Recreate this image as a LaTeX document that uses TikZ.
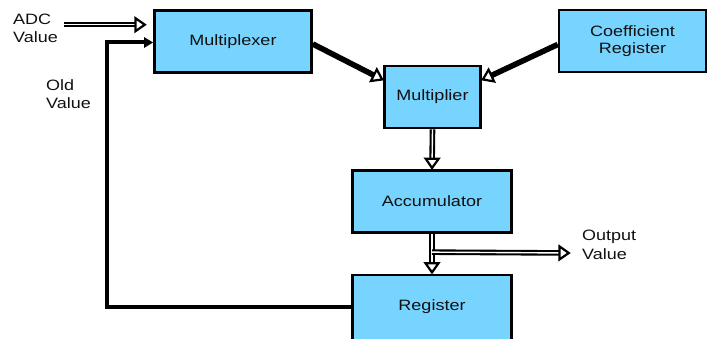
\documentclass[tikz,border=0pt]{standalone}
\usepackage{fontspec}
\setmainfont{Liberation Sans}[FakeStretch=1.2]
\usetikzlibrary{arrows.meta,calc}
\definecolor{boxblue}{RGB}{118,212,255}
\definecolor{ink}{RGB}{17,17,17}
\newcommand\dblarrow[3][dshaft]{%
  \draw[#1, shorten >=8pt] (#2) -- (#3);
  \draw[dhead] ($(#3)!1.2pt!(#2)$) -- ($(#3)!10.5pt!(#2)!6.5pt!90:(#3)$)
     -- ($(#3)!10.5pt!(#2)!6.5pt!-90:(#3)$) -- cycle;}
\begin{document}
\begin{tikzpicture}[x=1pt,y=-1pt,
  txt/.style={font=\fontsize{15}{18.5}\selectfont, text=ink, inner sep=0pt},
  blk/.style={txt, draw=black, line width=2.6pt, fill=boxblue, align=center, minimum height=62pt},
  lbl/.style={txt, align=left},
  dshaft/.style={line width=2.1pt, double=white, double distance=1.4pt},
  tshaft/.style={line width=2.5pt, double=black, double distance=0.6pt},
  dhead/.style={line width=2.2pt, draw=black, fill=white, line join=miter},
  fbline/.style={line width=4pt, -{Triangle[length=9pt, width=10pt]}}
]
\useasboundingbox (0,0) rectangle (709,339);
\clip (0,0) rectangle (709,339);

\node[blk, minimum width=157pt] (mux) at (233,41.5) {Multiplexer};
\node[blk, minimum width=147pt] (coef) at (632.5,41) {Coefficient\\[-1pt] Register};
\node[blk, minimum width=96pt] (mul) at (432.5,97) {Multiplier};
\node[blk, minimum width=159pt] (acc) at (432,201.5) {Accumulator};
\node[blk, minimum width=159pt, minimum height=70pt] (reg) at (432,310) {};
\node[txt] (regtext) at ([yshift=3pt]reg.center) {Register};

\node[lbl, anchor=base west] (adc) at (13,43) {ADC\\Value};
\node[lbl, anchor=base west] (old) at (46,109) {Old\\Value};
\node[lbl, anchor=base west] (out) at (582,259) {Output\\Value};

\coordinate (adcstart) at (64,24.7);
\coordinate (adcend) at (146,24.7);
\coordinate (fbcorner) at (107,307);
\coordinate (br) at ($(acc.south)!0.46!(reg.north)$);
\coordinate (outtip) at (570,253);
\coordinate (muxout) at ([yshift=-2.5pt]mux.east);
\coordinate (mulinl) at ([yshift=17pt]mul.west);
\coordinate (coefout) at ([yshift=-3.5pt]coef.west);
\coordinate (mulinr) at ([yshift=17pt]mul.east);

\dblarrow{adcstart}{adcend}
\draw[fbline] ([yshift=3pt]reg.west) -- (fbcorner) |- ([yshift=-1pt]mux.west);
\dblarrow[tshaft]{muxout}{mulinl}
\dblarrow[tshaft]{coefout}{mulinr}
\dblarrow{mul.south}{acc.north}
\dblarrow{acc.south}{reg.north}
\dblarrow{br}{outtip}
\end{tikzpicture}
\end{document}
